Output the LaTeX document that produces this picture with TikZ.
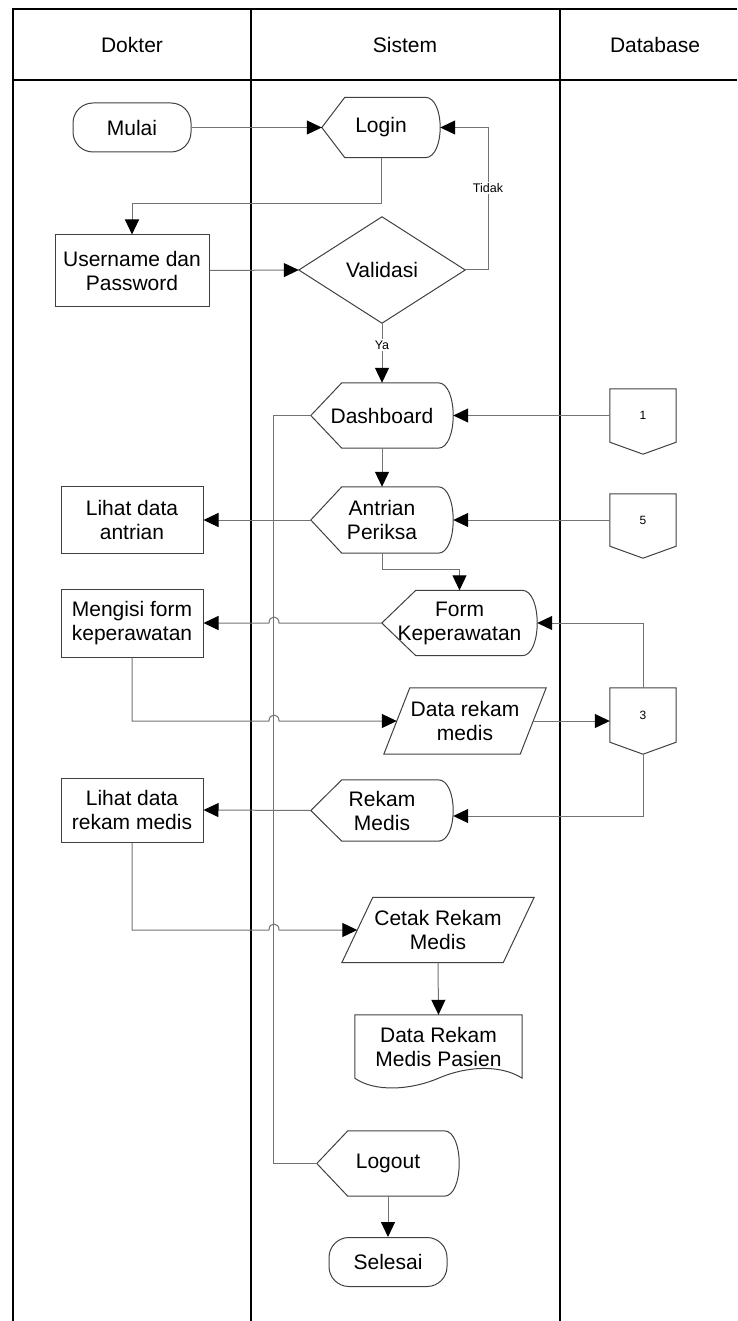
\documentclass[tikz,border=0pt]{standalone}
\usepackage{fontspec}
\setmainfont{Liberation Sans}
\usetikzlibrary{arrows.meta,calc}

% display symbol: pointed left side, rounded right side (#2 = depth of the point)
\newcommand\outlinedisplay[2]{%
  \draw[shapeline] (#1.west) -- ([xshift=#2]#1.north west) -- ([xshift=-15pt]#1.north east)
    .. controls ([xshift=5pt]#1.north east) and ([xshift=5pt]#1.south east) .. ([xshift=-15pt]#1.south east)
    -- ([xshift=#2]#1.south west) -- cycle;}
% data symbol: parallelogram (#2 = half of the slant)
\newcommand\outlinepara[2]{%
  \draw[shapeline] ([xshift=-#2]#1.south west) -- ([xshift=#2]#1.north west)
    -- ([xshift=#2]#1.north east) -- ([xshift=-#2]#1.south east) -- cycle;}
% decision symbol
\newcommand\outlinediamond[1]{%
  \draw[shapeline] (#1.west) -- (#1.north) -- (#1.east) -- (#1.south) -- cycle;}
% off-page reference
\newcommand\outlineoffpage[1]{%
  \draw[shapeline] (#1.north west) -- (#1.north east) -- (#1.south east)
    -- ([yshift=-12pt]#1.south) -- (#1.south west) -- cycle;}
% document symbol with wavy bottom
\newcommand\outlinedoc[1]{%
  \draw[shapeline] (#1.south west) -- (#1.north west) -- (#1.north east) -- (#1.south east)
    .. controls ([xshift=-22pt,yshift=14pt]#1.south east) and ([xshift=-56pt,yshift=12pt]#1.south east) .. (#1.south)
    .. controls ([xshift=-28pt,yshift=-12pt]#1.south) and ([xshift=20pt,yshift=-14pt]#1.south west) .. (#1.south west);}

\begin{document}
\begin{tikzpicture}[x=1pt,y=-1pt,
  lane/.style={line width=2pt,black},
  shapeline/.style={draw=black!75,line width=1pt},
  link/.style={draw=black!55,line width=1pt},
  flow/.style={link,-{Triangle[length=15pt,width=14pt,color=black]}},
  txt/.style={font=\fontsize{21}{24}\selectfont,align=center,inner sep=0pt,text=black},
  small/.style={font=\fontsize{12.5}{14}\selectfont,inner sep=1.5pt,text=black},
  plain/.style={txt},
  box/.style={txt,shapeline,minimum width=142pt},
  term/.style={txt,shapeline,rounded corners=20pt,minimum width=118pt,minimum height=49pt},
  disp/.style={txt,minimum width=142pt,minimum height=65pt},
  offpage/.style={font=\fontsize{12}{14}\selectfont,inner sep=0pt,minimum width=66pt,minimum height=53pt},
]
\useasboundingbox (0,0) rectangle (737,1321);

% swimlane table
\draw[lane] (13,1321) -- (13,9) -- (737,9);
\draw[lane] (13,80) -- (737,80);
\draw[lane] (251,9) -- (251,1321);
\draw[lane] (560,9) -- (560,1321);
\node[txt] (hdok) at (132,45) {Dokter};
\node[txt] (hsis) at (405,45) {Sistem};
\node[txt] (hdb) at (655,45) {Database};

% nodes
\node[term] (mulai) at (132,127.5) {Mulai};
\node[disp,minimum width=118pt,minimum height=60pt] (login) at (381,127.5) {Login};
\node[box,minimum width=154pt,minimum height=71pt] (user) at (132,270.5) {Username dan\\Password};
\node[plain,minimum width=166pt,minimum height=106pt] (val) at (382,270) {Validasi};
\node[disp] (dash) at (382,415.5) {Dashboard};
\node[offpage] (c1) at (643,415.5) {1};
\node[disp,minimum height=66pt] (antri) at (382,520) {Antrian\\Periksa};
\node[offpage,minimum height=52pt] (c5) at (643,520) {5};
\node[box,minimum height=67pt] (lantri) at (132,520) {Lihat data\\antrian};
\node[disp,minimum width=155pt] (form) at (459.5,623) {Form\\Keperawatan};
\node[box,minimum height=68pt] (meng) at (132,623) {Mengisi form\\keperawatan};
\node[plain,minimum width=136pt,minimum height=66pt] (drm) at (465,721) {Data rekam\\medis};
\node[offpage,minimum height=54pt] (c3) at (643,715) {3};
\node[disp,minimum height=61pt] (rekam) at (382,810.5) {Rekam\\Medis};
\node[box,minimum height=64pt] (lrm) at (132,810) {Lihat data\\rekam medis};
\node[plain,minimum width=161pt,minimum height=65pt] (cetak) at (438,930) {Cetak Rekam\\Medis};
\node[plain,minimum width=167pt,minimum height=63pt] (doc) at (438.5,1046.5) {Data Rekam\\Medis Pasien};
\node[disp] (logout) at (388,1163.5) {Logout};
\node[term] (selesai) at (388,1262) {Selesai};

% outlines
\outlinedisplay{login}{23pt}
\outlinedisplay{dash}{31pt}
\outlinedisplay{antri}{31pt}
\outlinedisplay{form}{34pt}
\outlinedisplay{rekam}{31pt}
\outlinedisplay{logout}{31pt}
\outlinediamond{val}
\outlinepara{drm}{13pt}
\outlinepara{cetak}{15.5pt}
\outlinedoc{doc}
\outlineoffpage{c1}
\outlineoffpage{c5}
\outlineoffpage{c3}
\coordinate (c3tip) at ([yshift=-12pt]c3.south);

% connectors
\draw[flow] (mulai.east) -- (login.west);
\draw[flow] (login.south) -- ++(0,46) -| (user.north);
\draw[flow] (user.east) -- (val.west);
\draw[flow] (val.east) -- ++(23,0) |- (login.east);
\draw[flow] (val.south) -- (dash.north);
\draw[link] (dash.west) -- ++(-37,0) |- (logout.west);
\draw[flow] (c1.west) -- (dash.east);
\draw[flow] (dash.south) -- (antri.north);
\draw[flow] (antri.west) -- (lantri.east);
\draw[flow] (c5.west) -- (antri.east);
\draw[flow] (antri.south) -- ++(0,16) -| (form.north);
\draw[flow] (form.west) -- (279,623) .. controls (279,615) and (269,615) .. (269,623) -- (meng.east);
\draw[flow] (c3.north) |- (form.east);
\draw[flow] (meng.south) -- (132,721) -- (269,721) .. controls (269,713) and (279,713) .. (279,721) -- (drm.west);
\draw[flow] (drm.east) -- (drm.east -| c3.west);
\draw[flow] (c3tip) |- ([yshift=-5.5pt]rekam.east);
\draw[flow] (rekam.west) -- (lrm.east);
\draw[flow] (lrm.south) -- (132,930) -- (269,930) .. controls (269,922) and (279,922) .. (279,930) -- (cetak.west);
\draw[flow] (cetak.south) -- (doc.north);
\draw[flow] (logout.south) -- (selesai.north);

% branch labels
\node[small,fill=white] (tidak) at (488,188) {Tidak};
\node[small,fill=white] (ya) at (382,345) {Ya};
\end{tikzpicture}
\end{document}
